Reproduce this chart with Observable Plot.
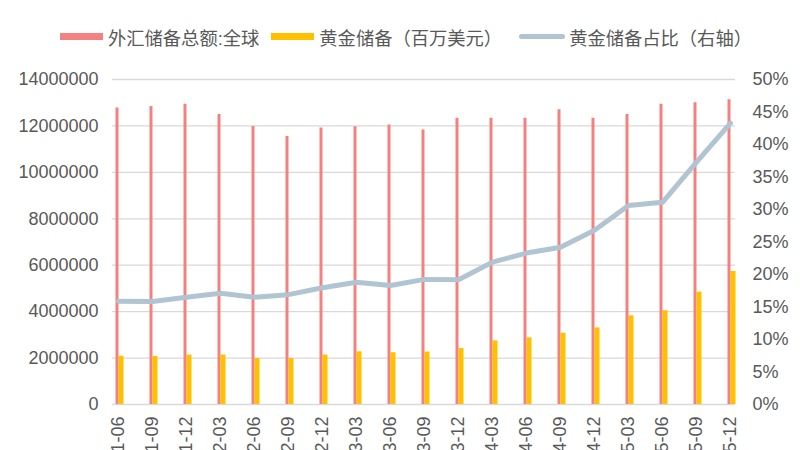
<!DOCTYPE html>
<html>
<head>
<meta charset="utf-8">
<script src="https://cdn.jsdelivr.net/npm/d3@7"></script>
<script src="https://cdn.jsdelivr.net/npm/@observablehq/plot@0.6"></script>
<style>
  html, body { margin: 0; padding: 0; background: #fff; }
  body { width: 800px; height: 450px; overflow: hidden; font-family: "Liberation Sans", "Noto Sans CJK SC", sans-serif; }
  #legend { height: 55px; box-sizing: border-box; padding-top: 18px; padding-left: 60px; display: flex; align-items: center; color: #595959; font-size: 18.3px; white-space: nowrap; }
  .sw { display: inline-block; width: 43px; height: 7px; margin-right: 5px; }
  .ln { display: inline-block; width: 46px; height: 5px; border-radius: 3px; margin-right: 4px; }
  .item { display: flex; align-items: center; }
</style>
</head>
<body>
<div id="legend"></div>
<div id="chart"></div>
<script>
const categories = ["2021-06","2021-09","2021-12","2022-03","2022-06","2022-09","2022-12","2023-03","2023-06","2023-09","2023-12","2024-03","2024-06","2024-09","2024-12","2025-03","2025-06","2025-09","2025-12"];
const fxReserves = [12770000,12840000,12930000,12490000,11980000,11540000,11910000,11970000,12040000,11820000,12330000,12330000,12330000,12700000,12330000,12490000,12930000,13000000,13130000];
const goldReserves = [2080000,2070000,2130000,2130000,1980000,1980000,2130000,2270000,2230000,2260000,2410000,2740000,2870000,3070000,3300000,3820000,4040000,4840000,5730000];
const goldShare = [15.9,15.85,16.5,17.1,16.5,16.9,17.95,18.8,18.3,19.25,19.2,21.9,23.3,24.2,26.8,30.6,31.1,37.3,43.3];
const leftTicks = [0,2000000,4000000,6000000,8000000,10000000,12000000,14000000];
const rightTicks = [0,5,10,15,20,25,30,35,40,45,50];
const seriesNames = ["外汇储备总额:全球", "黄金储备（百万美元）", "黄金储备占比（右轴）"];
const colors = ["#f4817f", "#ffc000", "#b0c4d2"];

const yMax = 14000000;
const pctMax = 50;
const k = yMax / pctMax;

const rows = categories.map((c, i) => ({cat: c, fx: fxReserves[i], gold: goldReserves[i], share: goldShare[i]}));

// legend
const legend = document.getElementById("legend");
const gaps = [12, 17, 0];
seriesNames.forEach((name, i) => {
  const item = document.createElement("span");
  item.className = "item";
  item.style.marginRight = gaps[i] + "px";
  const sw = document.createElement("span");
  sw.className = i === 2 ? "ln" : "sw";
  sw.style.background = colors[i];
  const t = document.createElement("span");
  t.textContent = name;
  item.appendChild(sw);
  item.appendChild(t);
  legend.appendChild(item);
});

const chart = Plot.plot({
  width: 800,
  height: 395,
  marginLeft: 112,
  marginRight: 65,
  marginTop: 24,
  marginBottom: 46,
  style: {fontFamily: '"Liberation Sans", "Noto Sans CJK SC", sans-serif', fontSize: "18px", color: "#595959", background: "white", overflow: "visible"},
  x: {type: "point", domain: categories, padding: 0, insetLeft: 3.25, insetRight: 3},
  y: {domain: [0, yMax]},
  marks: [
    Plot.ruleY(leftTicks, {stroke: "#d9d9d9", strokeWidth: 1.3}),
    Plot.ruleX(rows, {x: "cat", y1: d => 0, y2: "fx", stroke: colors[0], strokeWidth: 3, dx: -1.5}),
    Plot.ruleX(rows, {x: "cat", y1: d => 0, y2: "gold", stroke: colors[1], strokeWidth: 5, dx: 2.5}),
    Plot.line(rows, {x: "cat", y: d => d.share * k, stroke: colors[2], strokeWidth: 5, strokeLinejoin: "round", strokeLinecap: "round"}),
    Plot.axisY(leftTicks, {anchor: "left", tickSize: 0, tickPadding: 14, tickFormat: d => String(d), label: null}),
    Plot.axisY(rightTicks.map(p => p * k), {anchor: "right", tickSize: 0, tickPadding: 17, tickFormat: d => Math.round(d / k) + "%", label: null}),
    Plot.axisX({tickRotate: -90, tickSize: 0, tickPadding: 12, label: null})
  ]
});
document.getElementById("chart").appendChild(chart);
</script>
</body>
</html>
